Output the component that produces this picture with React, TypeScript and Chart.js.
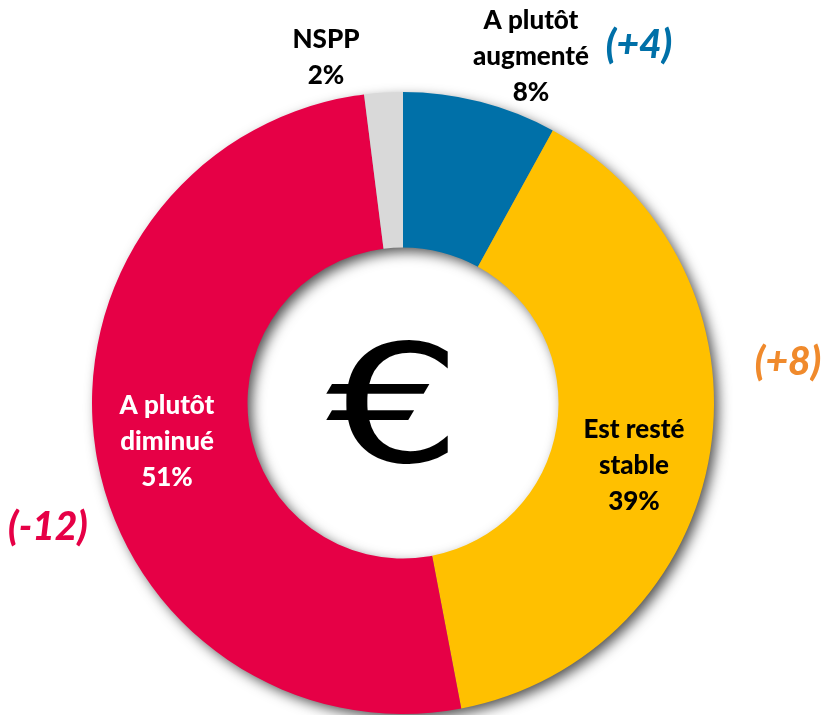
import React, { useEffect, useRef } from "react";
import { Chart, registerables } from "chart.js";

Chart.register(...registerables);

const categories = ["A plutôt augmenté", "Est resté stable", "A plutôt diminué", "NSPP"];
const values = [8, 39, 51, 2];
const colors = ["#0070A8", "#FFC000", "#E60046", "#D9D9D9"];
const labelLines = [
  ["A plutôt", "augmenté", "8%"],
  ["Est resté", "stable", "39%"],
  ["A plutôt", "diminué", "51%"],
  ["NSPP", "2%"],
];
const labelColors = ["#000000", "#000000", "#FFFFFF", "#000000"];
const labelAnchors = [
  [531, 21],
  [634, 430],
  [167, 406],
  [326, 40],
];
const changes = ["(+4)", "(+8)", "(-12)"];
const changeColors = ["#0070A8", "#F08A2C", "#E60046"];
const changeAnchors = [
  [639, 45],
  [788, 362],
  [48, 527],
];

const ringShadow = {
  id: "ringShadow",
  beforeDatasetDraw(chart: any) {
    const c = chart.ctx;
    const arc = chart.getDatasetMeta(0).data[0];
    if (!arc) return;
    c.save();
    c.shadowColor = "rgba(0,0,0,0.7)";
    c.shadowBlur = 13;
    c.shadowOffsetX = 5;
    c.shadowOffsetY = 5;
    c.fillStyle = "#888888";
    c.beginPath();
    c.arc(arc.x, arc.y, arc.outerRadius - 1, 0, Math.PI * 2);
    c.arc(arc.x, arc.y, arc.innerRadius + 1, 0, Math.PI * 2, true);
    c.fill();
    c.restore();
  },
};

const textLabels = {
  id: "textLabels",
  afterDraw(chart: any) {
    const c = chart.ctx;
    c.save();
    c.textAlign = "center";
    c.textBaseline = "middle";
    c.font = "900 26px Lato, Carlito, sans-serif";
    labelLines.forEach((lines, i) => {
      c.fillStyle = labelColors[i];
      lines.forEach((line, j) => {
        c.fillText(line, labelAnchors[i][0], labelAnchors[i][1] + j * 36);
      });
    });
    c.font = "italic 900 39px Lato, Carlito, sans-serif";
    changes.forEach((t, i) => {
      c.fillStyle = changeColors[i];
      c.fillText(t, changeAnchors[i][0], changeAnchors[i][1]);
    });
    c.fillStyle = "#000000";
    c.font = "164px 'DejaVu Sans', sans-serif";
    c.translate(394, 419);
    c.scale(1.3, 1);
    c.fillText("€", 0, 0);
    c.restore();
  },
};

export default function App() {
  const ref = useRef<HTMLCanvasElement>(null);
  useEffect(() => {
    const chart = new Chart(ref.current!, {
      type: "doughnut",
      data: {
        labels: categories,
        datasets: [{ data: values, backgroundColor: colors, borderWidth: 0 }],
      },
      options: {
        responsive: false,
        animation: false,
        cutout: "50%",
        layout: { padding: { left: 92, right: 107, top: 92, bottom: 1 } },
        plugins: { legend: { display: false }, tooltip: { enabled: false } },
      },
      plugins: [ringShadow, textLabels],
    });
    return () => chart.destroy();
  }, []);
  return (
    <div style={{ position: "absolute", left: 0, top: 0, width: 821, height: 715, background: "#fff" }}>
      <canvas ref={ref} width={821} height={715} style={{ display: "block" }} />
    </div>
  );
}
